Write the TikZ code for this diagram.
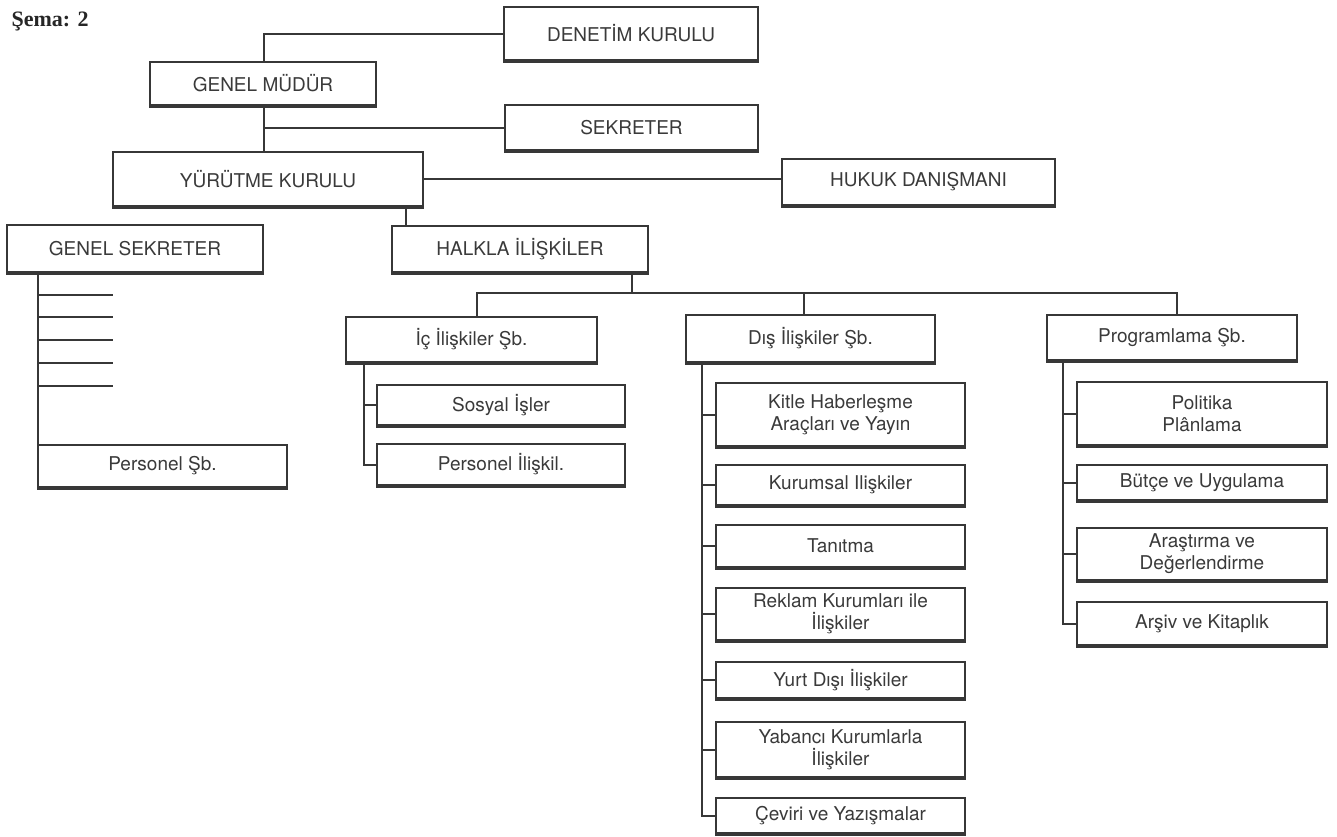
\documentclass[tikz,border=0pt]{standalone}
\usepackage{fontspec}
\setsansfont{TeX Gyre Heros}
\newfontfamily\titlefont{Liberation Serif}
\usetikzlibrary{calc}
\definecolor{ink}{RGB}{55,55,55}
\definecolor{txt}{RGB}{58,58,58}
\tikzset{
  orgbox/.style={draw=ink, line width=2pt, fill=white, rectangle, inner sep=0pt,
    align=center, text=txt, font=\sffamily\fontsize{19}{22}\selectfont},
  conn/.style={draw=ink, line width=2pt},
}
\newcommand{\bx}[6]{% name, cx, cy, w, h, text
  \node[orgbox, minimum width=#4pt, minimum height=#5pt] (#1) at (#2,#3) {#6};
  \draw[ink, line width=2pt] ([yshift=-0.8pt]#1.south west) -- ([yshift=-0.8pt]#1.south east);}
\begin{document}
\begin{tikzpicture}[x=1pt,y=-1pt]
\useasboundingbox[fill=white] (0,0) rectangle (1337,836);
\node[font=\titlefont\bfseries\fontsize{22}{24}\selectfont, anchor=west, text=black!85] (title) at (8,21) {Şema: 2};

\bx{den}{631}{33.5}{254}{53}{DENETİM KURULU}
\bx{gm}{263}{83.5}{226}{43}{GENEL MÜDÜR}
\bx{sek}{631.5}{127.5}{253}{45}{SEKRETER}
\bx{yur}{268}{179}{310}{54}{YÜRÜTME KURULU}
\bx{huk}{918.5}{182}{273}{46}{HUKUK DANIŞMANI}
\bx{gs}{135}{248.5}{256}{47}{GENEL SEKRETER}
\bx{hal}{520}{249}{256}{46}{HALKLA İLİŞKİLER}
\bx{ic}{471.5}{339.5}{251}{45}{İç İlişkiler Şb.}
\bx{dis}{810.5}{338.5}{249}{47}{Dış İlişkiler Şb.}
\bx{prg}{1172}{337.5}{250}{45}{Programlama Şb.}
\bx{sos}{501}{405}{248}{40}{Sosyal İşler}
\bx{pil}{501}{464.5}{248}{41}{Personel İlişkil.}
\bx{per}{162.5}{466}{249}{42}{Personel Şb.}
\bx{kit}{840.5}{414.5}{249}{63}{Kitle Haberleşme\\Araçları ve Yayın}
\bx{kur}{840.5}{485}{249}{40}{Kurumsal Ilişkiler}
\bx{tan}{840.5}{546}{249}{42}{Tanıtma}
\bx{rek}{840.5}{614}{249}{52}{Reklam Kurumları ile\\İlişkiler}
\bx{yrt}{840.5}{680}{249}{36}{Yurt Dışı İlişkiler}
\bx{yab}{840.5}{749.5}{249}{55}{Yabancı Kurumlarla\\İlişkiler}
\bx{cev}{840.5}{815.5}{249}{35}{Çeviri ve Yazışmalar}
\bx{pol}{1202}{413.5}{250}{63}{Politika\\Plânlama}
\bx{but}{1202}{482.5}{250}{35}{Bütçe ve Uygulama}
\bx{ara}{1202}{554}{250}{52}{Araştırma ve\\Değerlendirme}
\bx{ars}{1202}{623.5}{250}{43}{Arşiv ve Kitaplık}

% top chain
\coordinate (gmx) at (264,0);
\draw[conn] (gmx |- gm.north) |- (den.west);
\draw[conn] (gmx |- gm.south) -- (gmx |- yur.north);
\draw[conn] (gmx |- sek.west) -- (sek.west);
\draw[conn] (yur.east) -- (yur.east -| huk.west);
\coordinate (yh) at (406,0);
\draw[conn] (yh |- yur.south) -- (yh |- hal.north);
% bus
\coordinate (hb) at (632,293);
\coordinate (busL) at (477,293);
\coordinate (busM) at (804,293);
\coordinate (busR) at (1177,293);
\draw[conn] (hb |- hal.south) -- (hb);
\draw[conn] (busL |- ic.north) -- (busL) -- (busR) -- (busR |- prg.north);
\draw[conn] (busM) -- (busM |- dis.north);
% genel sekreter
\coordinate (gsx) at (38,0);
\draw[conn] (gsx |- gs.south) -- (gsx |- per.north);
\foreach \yy in {295,317,340,363,386} {
  \coordinate (s\yy) at (38,\yy);
  \draw[conn] (s\yy) -- ++(75,0);
}
% ic iliskiler
\coordinate (icx) at (364,0);
\draw[conn] (icx |- ic.south) |- (pil.west);
\draw[conn] (icx |- sos.west) -- (sos.west);
% dis iliskiler
\coordinate (dx) at (702,0);
\draw[conn] (dx |- dis.south) |- (cev.west);
\foreach \n in {kit,kur,tan,rek,yrt,yab} {
  \draw[conn] (dx |- \n.west) -- (\n.west);
}
% programlama
\coordinate (px) at (1063,0);
\draw[conn] (px |- prg.south) |- (ars.west);
\foreach \n in {pol,but,ara} {
  \draw[conn] (px |- \n.west) -- (\n.west);
}
\end{tikzpicture}
\end{document}
